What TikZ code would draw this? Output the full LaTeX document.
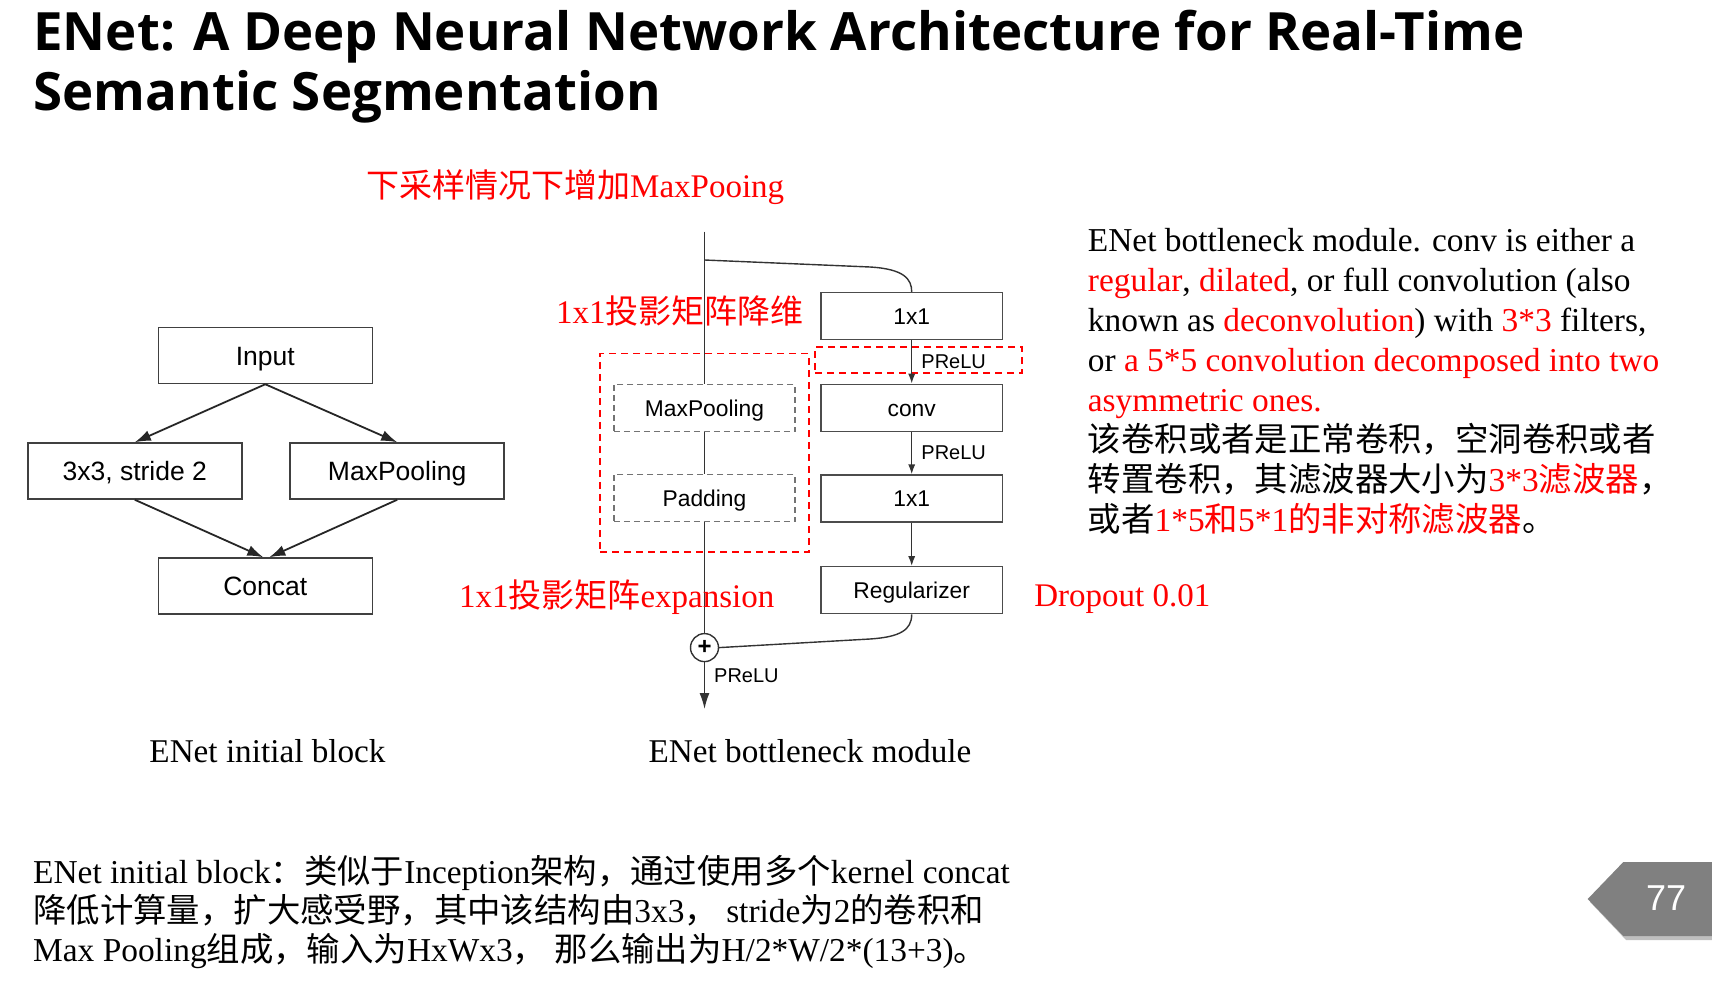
\documentclass[tikz,border=0pt]{standalone}
\usepackage{fontspec}
\setmainfont{Liberation Serif}
\setsansfont{Liberation Sans}
\newfontfamily\zhfont{Noto Sans CJK SC}
\newfontfamily\titlefont{Open Sans}
\usetikzlibrary{arrows.meta,positioning,fit}

\newcommand{\zh}[1]{{\zhfont #1}}
\newcommand{\hl}[1]{\textcolor{red}{#1}}

\begin{document}
\begin{tikzpicture}[
  x=0.5pt, y=-0.5pt,
  title/.style={font=\titlefont\bfseries\fontsize{26.4pt}{30pt}\selectfont, inner sep=0pt, anchor=base west},
  txt/.style={font=\fontsize{16.7pt}{20pt}\selectfont, inner sep=0pt, anchor=base west},
  note/.style={txt, font=\fontsize{16.5pt}{20pt}\selectfont, text=red},
  captxt/.style={font=\fontsize{16.6pt}{20pt}\selectfont, inner sep=0pt, anchor=base},
  blk/.style={draw=black!75, line width=0.75pt, inner sep=0pt,
    font=\sffamily\fontsize{13.25pt}{15pt}\selectfont, text height=9.5pt, text depth=0pt,
    minimum width=107pt, minimum height=28pt},
  bn/.style={draw=black!70, line width=0.7pt, inner sep=0pt,
    font=\sffamily\fontsize{11.4pt}{13pt}\selectfont, text height=8.2pt, text depth=0pt,
    minimum width=90.6pt, minimum height=23.5pt},
  opt/.style={bn, draw=black!55, dash pattern=on 3pt off 2pt},
  redbox/.style={draw=red, line width=0.75pt, dash pattern=on 3.5pt off 2.5pt},
  act/.style={font=\sffamily\fontsize{10pt}{12pt}\selectfont, inner xsep=4.5pt, inner ysep=1pt},
  ln/.style={line width=0.7pt, draw=black!80},
  flow/.style={ln, -{Latex[length=5pt,width=3.6pt]}},
  bigflow/.style={line width=0.9pt, draw=black!85, -{Latex[length=8pt,width=5.5pt]}},
]
\useasboundingbox (0,0) rectangle (1712,990);

% title
\node[title] (ttl1) at (33,51) {ENet: A Deep Neural Network Architecture for Real-Time};
\node[title] (ttl2) at (33,111) {Semantic Segmentation};

% ===== initial block =====
\node[blk] (inp) at (265.3,355.5) {Input};
\node[blk] (s3)  at (134.8,471)   {3x3, stride 2};
\node[blk] (mpl) at (397.2,471)   {MaxPooling};
\node[blk] (cat) at (265.3,586)   {Concat};
\draw[bigflow] (inp.south) -- (s3.north);
\draw[bigflow] (inp.south) -- (mpl.north);
\draw[bigflow] (s3.south) -- ([xshift=-1pt]cat.north);
\draw[bigflow] (mpl.south) -- ([xshift=2pt]cat.north);
\node[captxt] (capa) at (267.5,762) {ENet initial block};

% ===== bottleneck module =====
\coordinate (in) at (704.5,231.5);
\coordinate (split) at (704.5,260);
\node[opt] (mp)  at (704.5,407.8) {MaxPooling};
\node[opt] (pad) at (704.5,498)   {Padding};
\node[redbox, inner xsep=6.5pt, inner ysep=15pt, fit=(mp)(pad)] (dsmp) {};
\node[bn] (p1)  at (911.7,316)   {1x1};
\node[bn] (cv)  at (911.7,407.8) {conv};
\node[bn] (p2)  at (911.7,498.5) {1x1};
\node[bn] (reg) at (911.7,590.2) {Regularizer};
\node[circle, draw=black!80, line width=0.7pt, minimum size=14pt, inner sep=0pt,
  font=\sffamily\bfseries\fontsize{12pt}{12pt}\selectfont] (add) at (704.5,647.6) {+};
\coordinate (out) at (704.5,709);
\node[redbox, minimum width=103.5pt, minimum height=13pt] (dsact) at (918.5,360) {};

\draw[ln] (in) -- (mp.north);
\draw[ln] (mp.south) -- (pad.north);
\draw[ln] (pad.south) -- (add.north);
\draw[ln, -{Latex[length=8pt,width=5pt]}] (add.south) -- node[act, right, pos=0.28] {PReLU} (out);
\draw[ln] (split) -- (870,267) .. controls (904,269) and (911.7,279) .. (p1.north);
\draw[flow] (p1.south) -- node[act, right] {PReLU} (cv.north);
\draw[flow] (cv.south) -- node[act, right] {PReLU} (p2.north);
\draw[flow] (p2.south) -- (reg.north);
\draw[ln] (reg.south) .. controls (911.7,630) and (900,637) .. (870,639) -- (add.east);
\node[captxt] (capb) at (810,762) {ENet bottleneck module};

% red notes
\node[note] (tdown) at (365.8,197) {\zh{下采样情况下增加}MaxPooing};
\node[note] (tproj) at (555.7,323) {1x1\zh{投影矩阵降维}};
\node[note] (texp)  at (458.6,607) {1x1\zh{投影矩阵}expansion};
\node[note] (tdrop) at (1034,606)  {Dropout 0.01};

% description, right
\node[txt] (d1) at (1087.5,251.7) {ENet bottleneck module. conv is either a};
\node[txt] (d2) at (1087.5,291.7) {\hl{regular}, \hl{dilated}, or full convolution (also};
\node[txt] (d3) at (1087.5,331.7) {known as \hl{deconvolution}) with \hl{3*3} filters,};
\node[txt] (d4) at (1087.5,371.7) {or \hl{a 5*5 convolution decomposed into two}};
\node[txt] (d5) at (1087.5,411.7) {\hl{asymmetric ones.}};
\node[txt] (d6) at (1087.5,451.7) {\zh{该卷积或者是正常卷积，空洞卷积或者}};
\node[txt] (d7) at (1087.5,491.7) {\zh{转置卷积，其滤波器大小为}\hl{3*3\zh{滤波器}}\zh{，}};
\node[txt] (d8) at (1087.5,531.7) {\zh{或者}\hl{1*5\zh{和}5*1\zh{的非对称滤波器}}\zh{。}};

% description, bottom
\node[txt] (b1) at (32.8,883) {ENet initial block\zh{：类似于}Inception\zh{架构，通过使用多个}kernel concat};
\node[txt] (b2) at (32.8,922) {\zh{降低计算量，扩大感受野，其中该结构由}3x3\zh{，} stride\zh{为}2\zh{的卷积和}};
\node[txt] (b3) at (32.8,961) {Max Pooling\zh{组成，输入为}HxWx3\zh{，} \zh{那么输出为}H/2*W/2*(13+3)\zh{。}};

% page badge
\fill[black!25] (1590,902) -- (1626,865) -- (1712,865) -- (1712,940) -- (1626,940) -- cycle;
\fill[gray] (1587.7,899) -- (1623.3,862) -- (1712,862) -- (1712,936) -- (1623.3,936) -- cycle;
\node[font=\sffamily\fontsize{18pt}{20pt}\selectfont, text=white, inner sep=0pt] (pg) at (1666,898) {77};
\end{tikzpicture}
\end{document}
